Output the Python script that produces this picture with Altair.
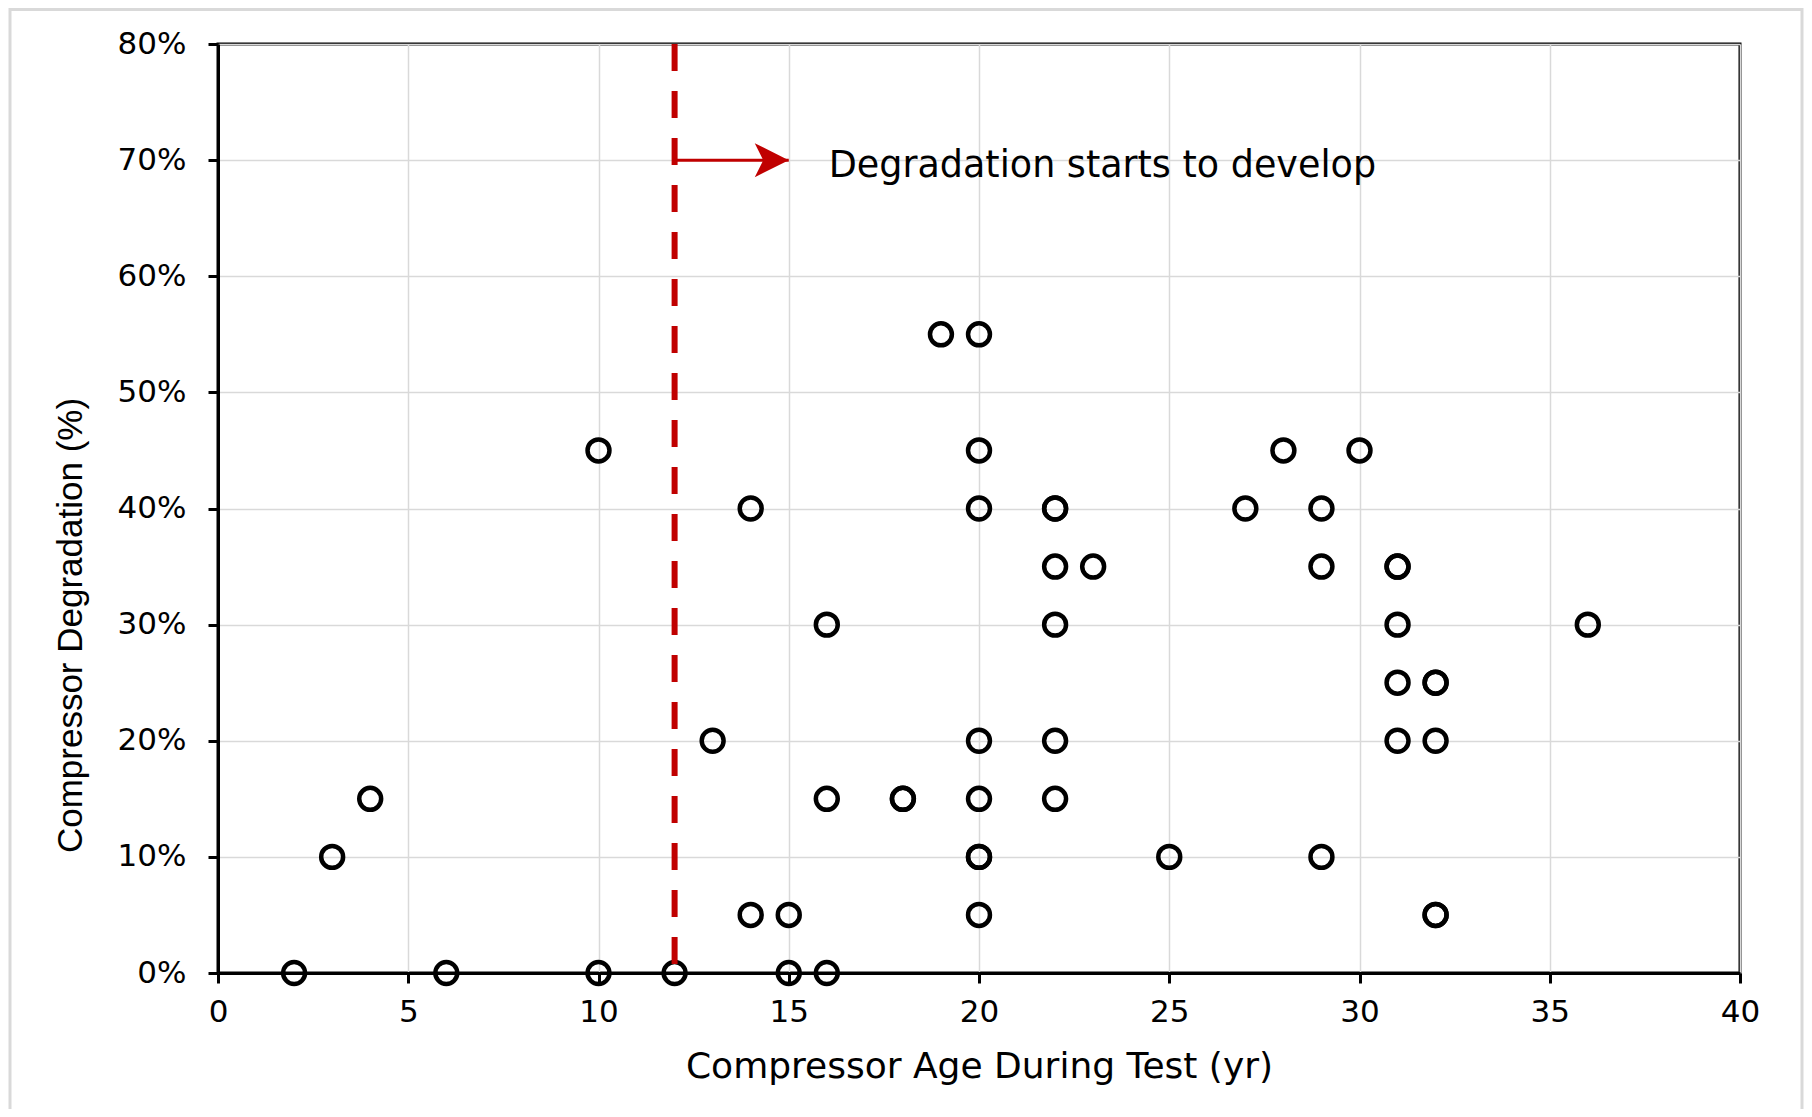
import altair as alt
import pandas as pd

# ---- data ----
age_yr = [19, 20,
          10, 20, 28, 30,
          14, 20, 22, 22, 27, 29,
          22, 23, 29, 31, 31,
          16, 22, 31, 36,
          31, 32, 32,
          13, 20, 22, 31, 32,
          4, 16, 18, 18, 20, 22,
          3, 20, 20, 25, 29,
          14, 15, 20, 32, 32,
          2, 6, 10, 12, 15, 16]
degradation_pct = [55, 55,
                   45, 45, 45, 45,
                   40, 40, 40, 40, 40, 40,
                   35, 35, 35, 35, 35,
                   30, 30, 30, 30,
                   25, 25, 25,
                   20, 20, 20, 20, 20,
                   15, 15, 15, 15, 15, 15,
                   10, 10, 10, 10, 10,
                   5, 5, 5, 5, 5,
                   0, 0, 0, 0, 0, 0]

onset_age = [12]
onset_top = [80]
onset_bottom = [0]

arrow_start = [12]
arrow_end = [15]
arrow_level = [70]

note_text = ["Degradation starts to develop"]
note_x = [16.05]
note_y = [70]

x_ticks = [0, 5, 10, 15, 20, 25, 30, 35, 40]
y_ticks = [0, 10, 20, 30, 40, 50, 60, 70, 80]

FONT = "DejaVu Sans"
YTITLE_FONT = "Liberation Sans"
RED = "#c00000"

pts = pd.DataFrame({"age": age_yr, "deg": degradation_pct})
onset = pd.DataFrame({"age": onset_age, "top": onset_top, "bottom": onset_bottom})
arrow = pd.DataFrame({"start": arrow_start, "end": arrow_end, "level": arrow_level})
note = pd.DataFrame({"x": note_x, "y": note_y, "text": note_text})
frame_df = pd.DataFrame({"k": [0]})

xscale = alt.Scale(domain=[0, 40], nice=False, zero=True)
yscale = alt.Scale(domain=[0, 80], nice=False, zero=True)

xaxis = alt.Axis(values=x_ticks, title="Compressor Age During Test (yr)",
                 titleFont=FONT, titleFontSize=36, titleFontWeight="normal", titleColor="black",
                 titleY=104, titleBaseline="alphabetic",
                 labelFont=FONT, labelFontSize=31, labelColor="black", labelPadding=14,
                 domainColor="black", domainWidth=3,
                 tickColor="black", tickWidth=3, tickSize=10,
                 gridColor="#d9d9d9", gridWidth=1.5, labelFlush=False)
yaxis = alt.Axis(values=y_ticks, title="Compressor Degradation (%)",
                 labelExpr="datum.value + '%'",
                 titleFont=YTITLE_FONT, titleFontSize=35, titleFontWeight="normal", titleColor="black",
                 titleX=-137, titleY=581, titleBaseline="alphabetic",
                 labelFont=FONT, labelFontSize=31, labelColor="black", labelPadding=22,
                 domainColor="black", domainWidth=3,
                 tickColor="black", tickWidth=3, tickSize=10,
                 gridColor="#d9d9d9", gridWidth=1.5, labelFlush=False)

frame = alt.Chart(frame_df).mark_rect(filled=False, stroke="#d9d9d9", strokeWidth=3).encode(
    x=alt.value(-208), x2=alt.value(1584), y=alt.value(-34.5), y2=alt.value(1100))

points = alt.Chart(pts).mark_point(shape="circle", filled=False, color="black",
                                    strokeWidth=4.5, size=480, opacity=1).encode(
    x=alt.X("age:Q", scale=xscale, axis=xaxis),
    y=alt.Y("deg:Q", scale=yscale, axis=yaxis))

dashed = alt.Chart(onset).mark_rule(color=RED, strokeWidth=6, strokeDash=[27, 20]).encode(
    x=alt.X("age:Q", scale=xscale),
    y=alt.Y("top:Q", scale=yscale), y2="bottom:Q")

shaft = alt.Chart(arrow).mark_rule(color=RED, strokeWidth=3).encode(
    x=alt.X("start:Q", scale=xscale), x2="end:Q",
    y=alt.Y("level:Q", scale=yscale))

head = alt.Chart(arrow).mark_point(shape="M 0 0 L -2 -1 L -1.5 0 L -2 1 Z", filled=True,
                                   color=RED, size=1156, opacity=1, strokeWidth=0).encode(
    x=alt.X("end:Q", scale=xscale),
    y=alt.Y("level:Q", scale=yscale))

label = alt.Chart(note).mark_text(align="left", baseline="middle", fontSize=36.5, font=FONT,
                                  color="black", dy=6).encode(
    x=alt.X("x:Q", scale=xscale),
    y=alt.Y("y:Q", scale=yscale),
    text="text:N")

chart = alt.layer(frame, points, dashed, shaft, head, label).properties(
    width=1522, height=929,
    padding={"left": 210, "top": 36, "right": 64, "bottom": 136},
    autosize=alt.AutoSizeParams(type="none"),
    background="white",
).configure(font=FONT).configure_view(stroke="black", strokeWidth=3)

chart.save("out.html", embed_options={"renderer": "svg", "actions": False})
